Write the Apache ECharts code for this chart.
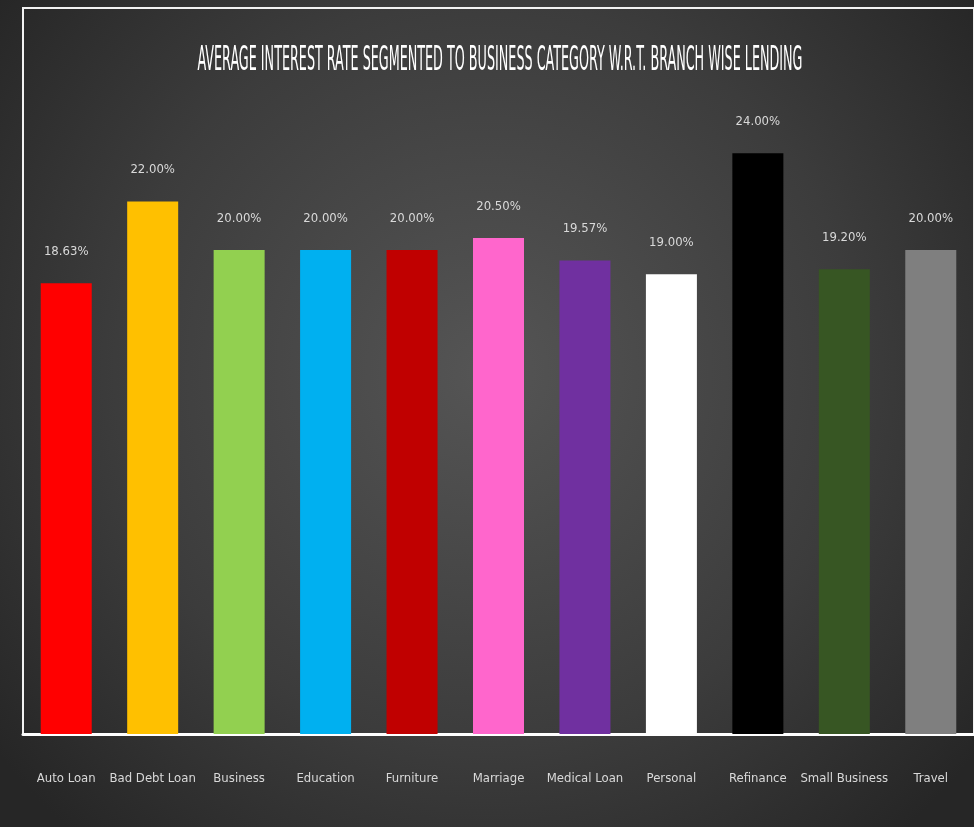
<!DOCTYPE html>
<html>
<head>
<meta charset="utf-8">
<script src="https://cdn.jsdelivr.net/npm/echarts@6/dist/echarts.min.js"></script>
<style>
  html, body { margin: 0; padding: 0; background: #2b2b2b; }
  #main { width: 974px; height: 827px; }
</style>
</head>
<body>
<div id="main"></div>
<script>
var categories = ['Auto Loan', 'Bad Debt Loan', 'Business', 'Education', 'Furniture', 'Marriage',
    'Medical Loan', 'Personal', 'Refinance', 'Small Business', 'Travel'];
var rates = [18.63, 22.00, 20.00, 20.00, 20.00, 20.50, 19.57, 19.00, 24.00, 19.20, 20.00];
var barColors = ['#ff0000', '#ffc000', '#92d050', '#00b0f0', '#c00000', '#ff66cc',
    '#7030a0', '#ffffff', '#000000', '#375623', '#7f7f7f'];
var titleText = 'AVERAGE INTEREST RATE SEGMENTED TO BUSINESS CATEGORY W.R.T. BRANCH WISE LENDING';

var narrow = '"Liberation Sans Narrow", "DejaVu Sans Condensed", "Noto Sans", sans-serif';

// title is drawn tall and squeezed, like the original picture
var titleSize = 34;
var ctx = document.createElement('canvas').getContext('2d');
ctx.font = titleSize + 'px ' + narrow;
var titleScale = 605 / ctx.measureText(titleText).width;

var chartDom = document.getElementById('main');
var myChart = echarts.init(chartDom);

var barData = rates.map(function (v, i) {
    return { value: v, itemStyle: { color: barColors[i] } };
});

var option = {
    backgroundColor: {
        type: 'radial', x: 0.5, y: 0.45, r: 0.75,
        colorStops: [
            { offset: 0, color: '#555555' },
            { offset: 0.6, color: '#3c3c3c' },
            { offset: 1, color: '#262626' }
        ]
    },
    animation: false,
    graphic: [{
        type: 'text',
        x: 500,
        y: 61,
        scaleX: titleScale,
        style: {
            text: titleText,
            fill: '#ffffff',
            font: titleSize + 'px ' + narrow,
            textAlign: 'center',
            textVerticalAlign: 'middle'
        }
    }],
    grid: {
        left: 23,
        right: -3,
        top: 8,
        bottom: 93,
        show: true,
        borderColor: '#f2f2f2',
        borderWidth: 2
    },
    xAxis: {
        type: 'category',
        data: categories,
        axisLine: { lineStyle: { color: '#ffffff', width: 3 } },
        axisTick: { show: false },
        axisLabel: {
            color: '#d9d9d9',
            fontFamily: narrow,
            fontSize: 13,
            margin: 38,
            interval: 0
        }
    },
    yAxis: {
        type: 'value',
        min: 0,
        max: 30,
        show: false,
        splitLine: { show: false }
    },
    series: [{
        type: 'bar',
        data: barData,
        barCategoryGap: '41%',
        label: {
            show: true,
            position: 'top',
            distance: 25,
            color: '#d9d9d9',
            fontFamily: narrow,
            fontSize: 13,
            formatter: function (p) { return p.value.toFixed(2) + '%'; }
        }
    }]
};

myChart.setOption(option);
</script>
</body>
</html>
